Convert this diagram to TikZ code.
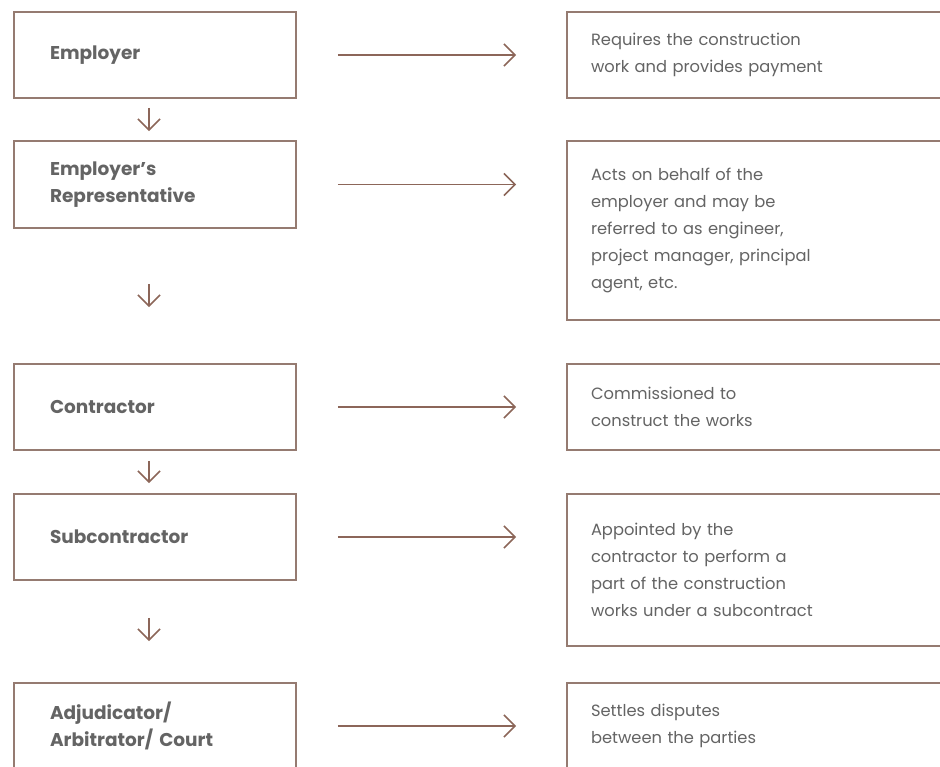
\documentclass[tikz,border=0pt]{standalone}
\usepackage{fontspec}
\setmainfont{Poppins}
\usetikzlibrary{arrows.meta}
\definecolor{clay}{HTML}{957B71}
\definecolor{rust}{HTML}{8C6659}
\definecolor{inkgray}{HTML}{646464}

\begin{document}
\begin{tikzpicture}[x=1pt,y=-1pt,
  role/.style={draw=clay,line width=1.8pt,fill=white,minimum width=282pt,
    minimum height=86pt,text width=210pt,inner xsep=36pt,align=left,
    text=inkgray,font=\fontsize{18.5}{27}\selectfont\bfseries},
  duty/.style={draw=clay,line width=1.8pt,fill=white,minimum width=400pt,
    text width=352pt,inner xsep=24pt,align=left,
    text=inkgray,font=\fontsize{16.3}{27}\selectfont},
  flow/.style={-{Straight Barb[length=11pt,width=22pt]},line width=1.6pt,rust},
  down/.style={-{Straight Barb[length=11pt,width=22pt]},line width=1.6pt,rust}]
\useasboundingbox (0,0) rectangle (940,767);
\clip (0,0) rectangle (940,767);

% who is involved
\node[role] (employer) at (155,55) {Employer};
\node[role,minimum height=87pt] (rep) at (155,184.5) {Employer's\\Representative};
\node[role] (contractor) at (155,407) {Contractor};
\node[role] (sub) at (155,537) {Subcontractor};
\node[role] (adjud) at (155,726) {Adjudicator/\\Arbitrator/ Court};

% what they do
\node[duty,minimum height=86pt] (pay) at (767,55)
  {Requires the construction\\work and provides payment};
\node[duty,minimum height=179pt] (behalf) at (767,230.5)
  {Acts on behalf of the\\employer and may be\\referred to as engineer,\\project manager, principal\\agent, etc.};
\node[duty,minimum height=86pt] (build) at (767,407)
  {Commissioned to\\construct the works};
\node[duty,minimum height=152pt] (part) at (767,570)
  {Appointed by the\\contractor to perform a\\part of the construction\\works under a subcontract};
\node[duty,minimum height=86pt] (settle) at (767,726)
  {Settles disputes\\between the parties};

% chain of appointment
\draw[down,shorten <=9pt,shorten >=9pt] ([xshift=-6pt]employer.south) -- ([xshift=-6pt]rep.north);
\draw[down,shorten <=55pt,shorten >=56pt] ([xshift=-6pt]rep.south) -- ([xshift=-6pt]contractor.north);
\draw[down,shorten <=10pt,shorten >=10pt] ([xshift=-6pt]contractor.south) -- ([xshift=-6pt]sub.north);
\draw[down,shorten <=37pt,shorten >=41pt] ([xshift=-6pt]sub.south) -- ([xshift=-6pt]adjud.north);

% roles
\draw[flow,shorten <=41pt,shorten >=50pt] (employer.east) -- (employer.east -| pay.west);
\draw[flow,shorten <=41pt,shorten >=50pt] (rep.east) -- (rep.east -| behalf.west);
\draw[flow,shorten <=41pt,shorten >=50pt] (contractor.east) -- (contractor.east -| build.west);
\draw[flow,shorten <=41pt,shorten >=50pt] (sub.east) -- (sub.east -| part.west);
\draw[flow,shorten <=41pt,shorten >=50pt] (adjud.east) -- (adjud.east -| settle.west);
\end{tikzpicture}
\end{document}
